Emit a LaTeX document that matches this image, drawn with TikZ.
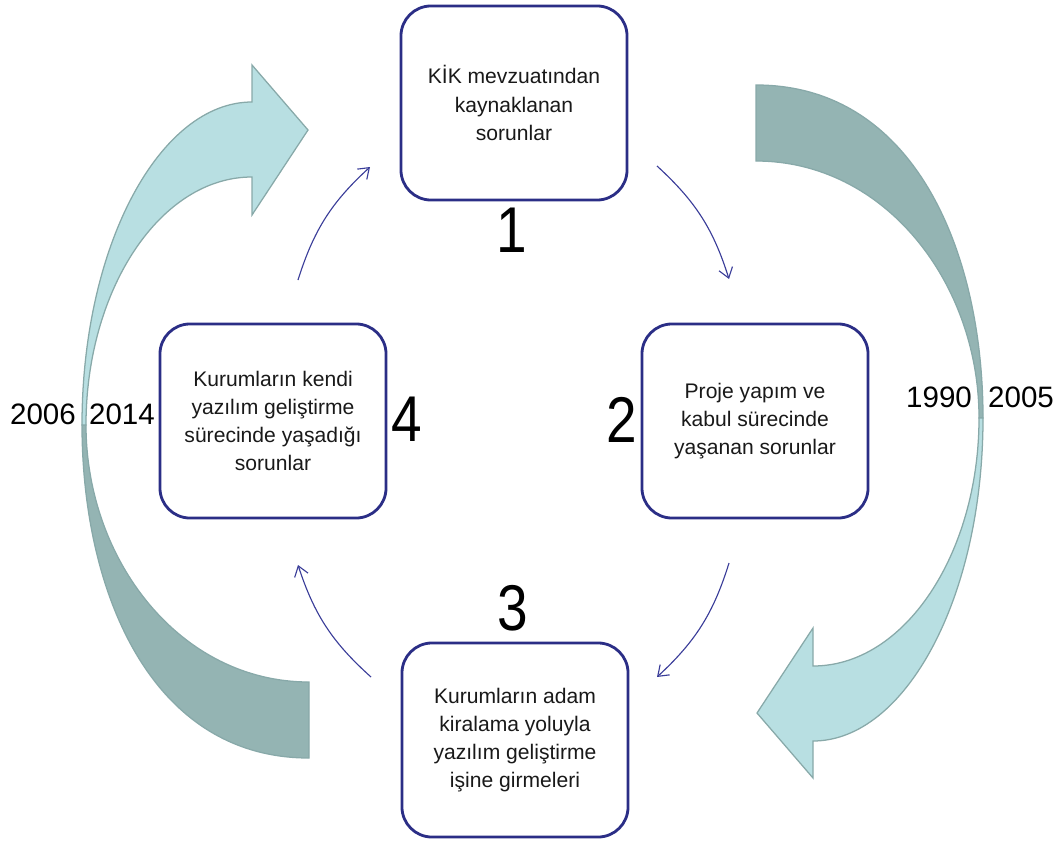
\documentclass[tikz,border=0pt]{standalone}
\usepackage{fontspec}
\setmainfont{Liberation Sans}
\newfontfamily\numfont{Liberation Sans}[FakeStretch=0.85]
\usetikzlibrary{arrows.meta}

\definecolor{boxblue}{HTML}{2B2E86}
\definecolor{arrowblue}{HTML}{3A3D99}
\definecolor{tealdark}{HTML}{94B4B3}
\definecolor{teallight}{HTML}{B8DFE2}
\definecolor{tealedge}{HTML}{88A9A9}

\begin{document}
\begin{tikzpicture}[
    x=0.025cm,
    y=-0.025cm,
    box/.style={
        draw=boxblue,
        line width=2pt,
        rounded corners=0.75cm,
        minimum width=5.65cm,
        minimum height=4.85cm,
        align=center,
        text=black!90,
        font=\fontsize{15}{20}\selectfont
    },
    num/.style={font=\numfont\fontsize{46}{46}\selectfont},
    year/.style={font=\fontsize{21}{21}\selectfont},
    flow/.style={-{Straight Barb[length=7pt,width=10pt]}, draw=arrowblue, line width=0.8pt, bend left=15},
    band/.style={draw=tealedge, line width=0.9pt}
]
    \useasboundingbox (0,0) rectangle (1062,841);

    % big curved arrows
    \foreach \r in {0,180}{
        \begin{scope}[rotate around={\r:(532.5,421.5)}]
            \filldraw[band, fill=tealdark] (82,425) .. controls (82,590) and (150,758) .. (309,758)
                -- (309,682) .. controls (180,682) and (86,560) .. (86,425) -- cycle;
            \filldraw[band, fill=teallight] (82,425) .. controls (82,245) and (160,102) .. (252,102)
                -- (252,65) -- (308,130) -- (252,215) -- (252,177)
                .. controls (160,177) and (86,290) .. (86,425) -- cycle;
        \end{scope}
    }

    \node[box] (mevzuat) at (514,103) {KİK mevzuatından\\kaynaklanan\\sorunlar};
    \node[box] (proje) at (755,421) {Proje yapım ve\\kabul sürecinde\\yaşanan sorunlar};
    \node[box] (kiralama) at (515,740) {Kurumların adam\\kiralama yoluyla\\yazılım geliştirme\\işine girmeleri};
    \node[box] (kurum) at (273,421) {Kurumların kendi\\yazılım geliştirme\\sürecinde yaşadığı\\sorunlar};

    \node[num] (n1) at (512,230) {1};
    \node[num] (n2) at (622,420) {2};
    \node[num] (n3) at (513,608) {3};
    \node[num] (n4) at (407,419) {4};

    \node[year] (y2006) at (43,414) {2006};
    \node[year] (y2014) at (122,414) {2014};
    \node[year] (y1990) at (939,397) {1990};
    \node[year] (y2005) at (1021,397) {2005};

    \coordinate (kurum-out) at (298,280);
    \coordinate (mevzuat-in) at (370,167);
    \coordinate (mevzuat-out) at (657,166);
    \coordinate (proje-in) at (729,279);
    \coordinate (proje-out) at (729,563);
    \coordinate (kiralama-in) at (657,677);
    \coordinate (kiralama-out) at (371,677);
    \coordinate (kurum-in) at (298,565);

    \draw[flow] (kurum-out) to (mevzuat-in);
    \draw[flow] (mevzuat-out) to (proje-in);
    \draw[flow] (proje-out) to (kiralama-in);
    \draw[flow] (kiralama-out) to (kurum-in);
\end{tikzpicture}
\end{document}
